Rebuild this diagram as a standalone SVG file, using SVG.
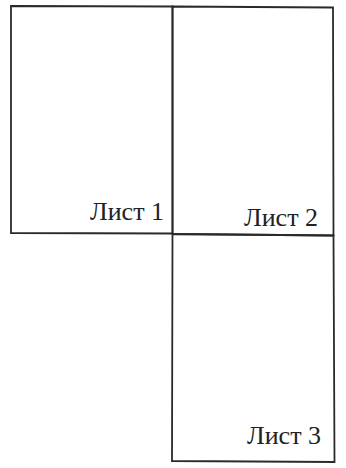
<svg xmlns="http://www.w3.org/2000/svg" width="346" height="468" viewBox="0 0 346 468">
<style>
.sheet{fill:none;stroke:#2a2a2a;stroke-width:1.8}
.lbl{font-family:"Liberation Serif","Times New Roman",serif;font-size:26px;fill:#222;text-anchor:end}
</style>
<rect width="346" height="468" fill="#fff"/>
<g id="sheet1"><path class="sheet" d="M11,6 L172.5,6.5 L172.5,233.5 L11,233 Z"/><text class="lbl" x="164" y="220">Лист 1</text></g>
<g id="sheet2"><path class="sheet" d="M172.5,6.5 L333,7.5 L333.5,235.5 L172.5,234 Z"/><text class="lbl" x="318" y="226">Лист 2</text></g>
<g id="sheet3"><path class="sheet" d="M172.5,234 L333.5,235.5 L334.5,462 L172,461 Z"/><text class="lbl" x="321" y="444">Лист 3</text></g>
</svg>
